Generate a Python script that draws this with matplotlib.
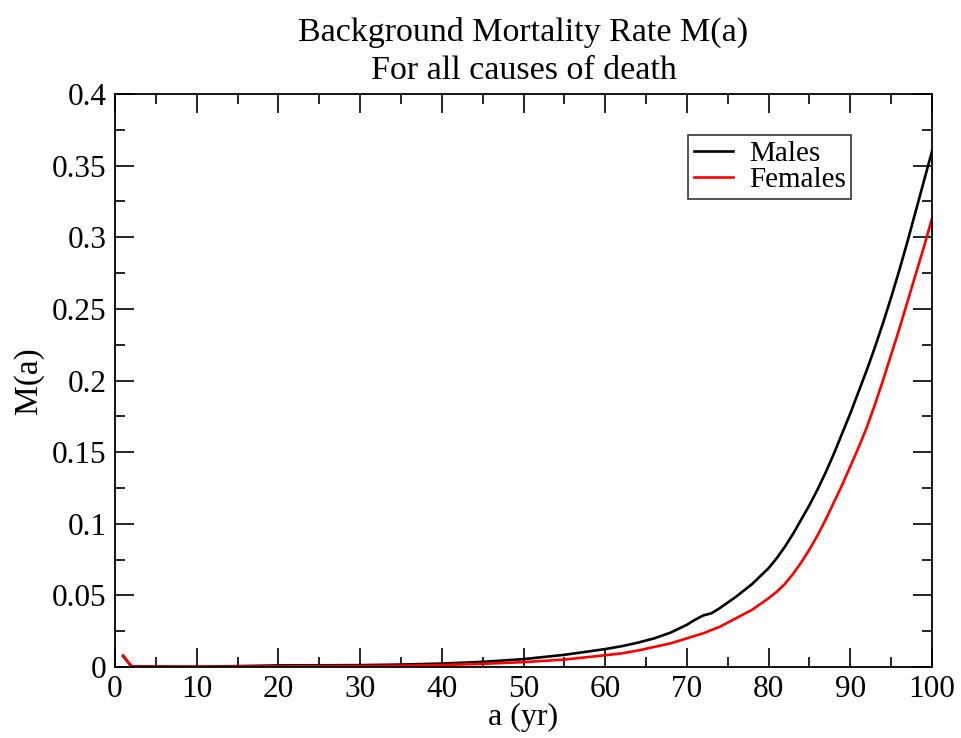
import numpy as np
import matplotlib
matplotlib.use("Agg")
import matplotlib.pyplot as plt
from matplotlib.ticker import MultipleLocator

# возраст (лет)
ages = [1, 2, 5, 10, 15, 20, 25, 30, 35, 40, 45, 50, 55, 60, 62, 64, 66, 68,
        70, 71, 72, 73, 74, 76, 78, 80, 81, 82, 83, 84, 85, 86, 87, 88, 89,
        90, 91, 92, 93, 94, 95, 96, 97, 98, 99, 100]

# смертность мужчин
males = [0.0075, 0.0005, 0.0003, 0.0002, 0.0006, 0.0011, 0.0012, 0.0013,
         0.0017, 0.0024, 0.0036, 0.0055, 0.0085, 0.0125, 0.0145, 0.017,
         0.020, 0.024, 0.0295, 0.033, 0.036, 0.0375, 0.041, 0.049, 0.058,
         0.069, 0.076, 0.084, 0.093, 0.103, 0.113, 0.124, 0.136, 0.149,
         0.163, 0.177, 0.192, 0.207, 0.223, 0.240, 0.258, 0.277, 0.297,
         0.318, 0.339, 0.360]

# смертность женщин
females = [0.008, 0.0004, 0.0002, 0.0002, 0.0003, 0.0004, 0.0005, 0.0006,
           0.0009, 0.0014, 0.0022, 0.0034, 0.0052, 0.0082, 0.0095, 0.0115,
           0.014, 0.0165, 0.020, 0.0218, 0.0235, 0.0258, 0.028, 0.034,
           0.040, 0.048, 0.0525, 0.058, 0.065, 0.073, 0.082, 0.092, 0.103,
           0.115, 0.127, 0.140, 0.153, 0.167, 0.183, 0.200, 0.218, 0.236,
           0.255, 0.274, 0.293, 0.313]

plt.rcParams['font.family'] = ['Liberation Serif', 'DejaVu Serif']

fig = plt.figure(figsize=(9.61, 7.38), dpi=100)
ax = fig.add_axes([0.1197, 0.0962, 0.8501, 0.7764])

ax.plot(ages, males, color='black', lw=1.9, label='Males')
ax.plot(ages, females, color='red', lw=1.9, label='Females')

ax.set_xlim(0, 100)
ax.set_ylim(0, 0.4)
ax.xaxis.set_major_locator(MultipleLocator(10))
ax.xaxis.set_minor_locator(MultipleLocator(5))
ax.yaxis.set_major_locator(MultipleLocator(0.05))
ax.yaxis.set_minor_locator(MultipleLocator(0.025))
ax.set_yticks(np.arange(0, 0.401, 0.05))
ax.set_yticklabels(['0', '0.05', '0.1', '0.15', '0.2', '0.25', '0.3', '0.35', '0.4'])

ax.tick_params(which='both', direction='in', top=True, right=True,
               width=1.2, labelsize=22.5, pad=6)
ax.tick_params(which='major', length=14)
ax.tick_params(which='minor', length=7)
for s in ax.spines.values():
    s.set_linewidth(1.3)

ax.set_xlabel('a (yr)', fontsize=23, labelpad=-1)
ax.set_ylabel('M(a)', fontsize=24, labelpad=6)
ax.set_title('Background Mortality Rate M(a)\nFor all causes of death',
             fontsize=24.5, pad=11, linespacing=1.3)

leg = ax.legend(loc='upper right', bbox_to_anchor=(0.901, 0.928), fontsize=21,
                frameon=True, fancybox=False, edgecolor='black',
                handlelength=1.35, handletextpad=0.55, borderpad=0.18,
                labelspacing=0.0, borderaxespad=0)
leg.get_frame().set_linewidth(1.2)

fig.savefig('out.png', dpi=100)
